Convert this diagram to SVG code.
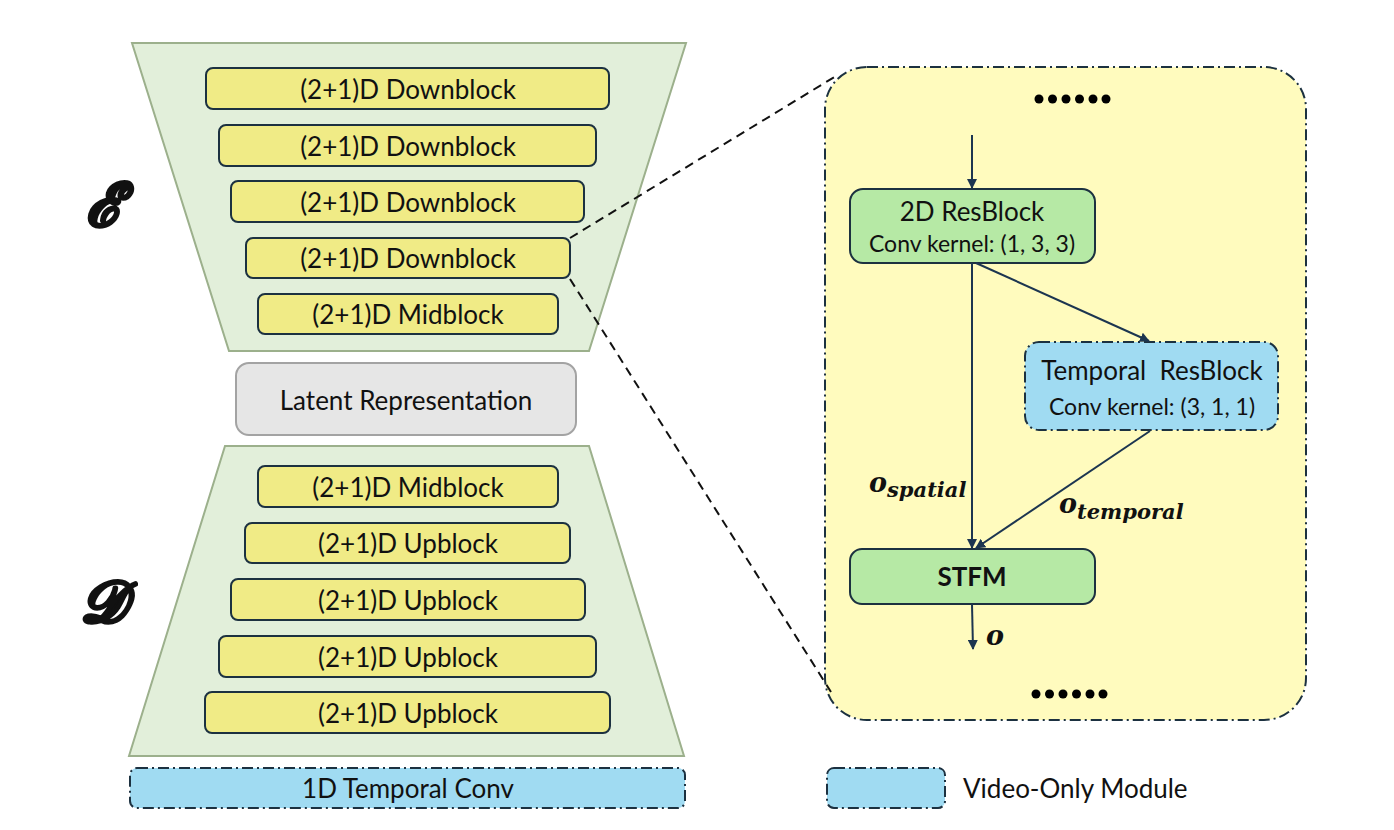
<svg xmlns="http://www.w3.org/2000/svg" width="1394" height="830" viewBox="0 0 1394 830">
<style>
.trap{fill:#e2efda;stroke:#9cb08c;stroke-width:2}
.yb{fill:#f0eb86;stroke:#1c3140;stroke-width:2}
.gb{fill:#b6e9a5;stroke:#1c3140;stroke-width:2}
.bb{fill:#a0dbf2;stroke:#1c3140;stroke-width:2;stroke-dasharray:11 4 2 4}
.t{font-family:Lato,"Open Sans",sans-serif;font-size:26px;fill:#111;text-anchor:middle}
.ts{font-family:Lato,"Open Sans",sans-serif;font-size:23px;fill:#111;text-anchor:middle}
.m{font-family:"DejaVu Serif",serif;font-weight:bold;font-style:italic;fill:#111}
.cal{fill:#111;stroke:#111;stroke-width:3;stroke-linejoin:round}
.ln{stroke:#1c3550;stroke-width:2;fill:none}
.zl{stroke:#111;stroke-width:2;fill:none;stroke-dasharray:9 6}
.dot{fill:#000}
</style>
<defs>
<marker id="ah" markerWidth="10" markerHeight="10" refX="9" refY="5" orient="auto" markerUnits="userSpaceOnUse">
<path d="M0,0 L10,5 L0,10 Z" fill="#1c3550"/>
</marker>
</defs>
<rect width="1394" height="830" fill="#fff"/>

<g id="encoder">
<polygon class="trap" points="132,43 686,43 589,351 229,351"/>
<text class="m cal" x="86" y="226" font-size="60">ℰ</text>
</g>
<g id="down1"><rect class="yb" x="206" y="68" width="403" height="41" rx="7"/><text class="t" x="408" y="99">(2+1)D Downblock</text></g>
<g id="down2"><rect class="yb" x="219" y="125" width="377" height="41" rx="7"/><text class="t" x="408" y="156">(2+1)D Downblock</text></g>
<g id="down3"><rect class="yb" x="231" y="181" width="353" height="41" rx="7"/><text class="t" x="408" y="212">(2+1)D Downblock</text></g>
<g id="down4"><rect class="yb" x="246" y="238" width="324" height="40" rx="7"/><text class="t" x="408" y="268">(2+1)D Downblock</text></g>
<g id="mid1"><rect class="yb" x="258" y="294" width="300" height="40" rx="7"/><text class="t" x="408" y="324">(2+1)D Midblock</text></g>

<g id="latent"><rect x="236" y="363" width="340" height="72" rx="13" fill="#e6e6e6" stroke="#a3a3a3" stroke-width="2"/><text class="t" x="406" y="410" font-size="29">Latent Representation</text></g>

<g id="decoder">
<polygon class="trap" points="225,446 589,446 684,756 129,756"/>
<text class="m cal" x="80" y="622" font-size="58">𝒟</text>
</g>
<g id="mid2"><rect class="yb" x="258" y="466" width="300" height="41" rx="7"/><text class="t" x="408" y="497">(2+1)D Midblock</text></g>
<g id="up1"><rect class="yb" x="245" y="523" width="325" height="40" rx="7"/><text class="t" x="408" y="553">(2+1)D Upblock</text></g>
<g id="up2"><rect class="yb" x="231" y="579" width="354" height="41" rx="7"/><text class="t" x="408" y="610">(2+1)D Upblock</text></g>
<g id="up3"><rect class="yb" x="219" y="636" width="377" height="41" rx="7"/><text class="t" x="408" y="667">(2+1)D Upblock</text></g>
<g id="up4"><rect class="yb" x="205" y="692" width="405" height="41" rx="7"/><text class="t" x="408" y="723">(2+1)D Upblock</text></g>

<g id="temporal-conv"><rect class="bb" x="130" y="768" width="555" height="40" rx="7"/><text class="t" x="408" y="798">1D Temporal Conv</text></g>

<g id="panel">
<rect x="825" y="67" width="481" height="653" rx="42" fill="#fffbbe" stroke="#1c3140" stroke-width="2" stroke-dasharray="11 4 2 4"/>
<g class="dot">
<circle cx="1039" cy="99" r="4.5"/><circle cx="1052.5" cy="99" r="4.5"/><circle cx="1066" cy="99" r="4.5"/><circle cx="1079.5" cy="99" r="4.5"/><circle cx="1093" cy="99" r="4.5"/><circle cx="1106" cy="99" r="4.5"/>
<circle cx="1036" cy="694" r="4.5"/><circle cx="1049.5" cy="694" r="4.5"/><circle cx="1063" cy="694" r="4.5"/><circle cx="1076.5" cy="694" r="4.5"/><circle cx="1090" cy="694" r="4.5"/><circle cx="1103" cy="694" r="4.5"/>
</g>
</g>

<g id="resblock2d"><rect class="gb" x="850" y="189" width="245" height="74" rx="13"/><text class="t" x="972" y="221" font-size="24">2D ResBlock</text><text class="ts" x="972" y="252">Conv kernel: (1, 3, 3)</text></g>
<g id="temporal-resblock"><rect class="bb" x="1025" y="342" width="253" height="88" rx="14"/><text class="t" x="1152" y="380" font-size="26" xml:space="preserve">Temporal  ResBlock</text><text class="ts" x="1152" y="415">Conv kernel: (3, 1, 1)</text></g>
<g id="stfm"><rect class="gb" x="850" y="549" width="245" height="55" rx="12"/><text class="t" x="972" y="586" font-weight="bold" font-size="25">STFM</text></g>

<g id="legend"><rect class="bb" x="827" y="768" width="118" height="40" rx="7"/><text class="t" x="963" y="798" style="text-anchor:start">Video-Only Module</text></g>

<g id="connectors">
<line class="zl" x1="570" y1="238" x2="836" y2="76"/>
<line class="zl" x1="570" y1="279" x2="831" y2="692"/>
<line class="ln" x1="972" y1="135" x2="972" y2="188" marker-end="url(#ah)"/>
<line class="ln" x1="972" y1="263" x2="972" y2="548" marker-end="url(#ah)"/>
<line class="ln" x1="976" y1="263" x2="1149" y2="341" marker-end="url(#ah)"/>
<line class="ln" x1="1150" y1="431" x2="976" y2="548" marker-end="url(#ah)"/>
<line class="ln" x1="972" y1="604" x2="973" y2="649" marker-end="url(#ah)"/>
<text class="m" x="869" y="492" font-size="27">o<tspan font-size="21" dy="5">spatial</tspan></text>
<text class="m" x="1059" y="513" font-size="27">o<tspan font-size="21" dy="6">temporal</tspan></text>
<text class="m" x="986" y="645" font-size="27">o</text>
</g>
</svg>
